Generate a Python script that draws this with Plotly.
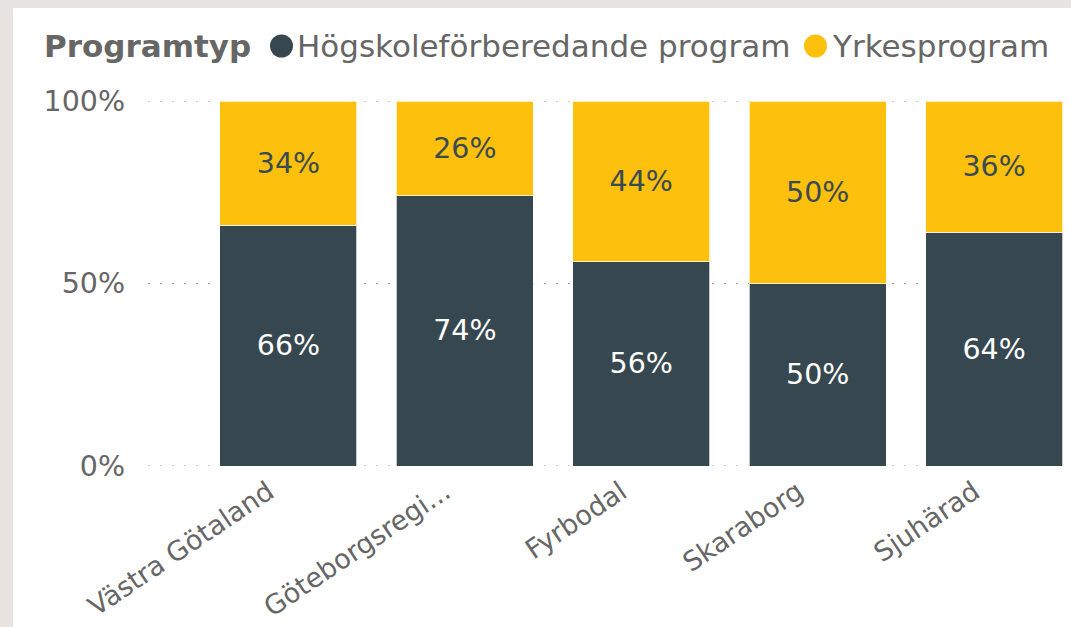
import plotly.graph_objects as go

categories = ["Västra Götaland", "Göteborgsregionen", "Fyrbodal", "Skaraborg", "Sjuhärad"]
tick_labels = ["Västra Götaland", "Göteborgsregi...", "Fyrbodal", "Skaraborg", "Sjuhärad"]
hogskole = [66, 74, 56, 50, 64]
yrkes = [34, 26, 44, 50, 36]
series_names = ["Högskoleförberedande program", "Yrkesprogram"]
y_ticks = [0, 50, 100]
y_tick_labels = ["0%", "50%", "100%"]

DARK = "#37474f"
YELLOW = "#fdc00d"
FONT = "DejaVu Sans"

W, H = 1071, 627
L, R, T, B = 148, 0, 101, 161
PW, PH = W - L - R, H - T - B


def px(x):
    return (x - L) / PW


def py(y):
    return (H - B - y) / PH


fig = go.Figure()
fig.add_trace(go.Bar(
    x=categories, y=hogskole, name=series_names[0],
    marker=dict(color=DARK, line=dict(color="rgba(255,255,255,0.7)", width=1)),
    text=[f"{v}%" for v in hogskole], textposition="inside", insidetextanchor="middle",
    textfont=dict(family=FONT, size=28.5, color="white"), showlegend=False,
))
fig.add_trace(go.Bar(
    x=categories, y=yrkes, name=series_names[1],
    marker=dict(color=YELLOW, line=dict(color="rgba(255,255,255,0.7)", width=1)),
    text=[f"{v}%" for v in yrkes], textposition="inside", insidetextanchor="middle",
    textfont=dict(family=FONT, size=28.5, color="#3a4a52"), showlegend=False,
))

shapes = [
    dict(type="rect", xref="paper", yref="paper", x0=px(13), x1=px(W + 5), y0=py(H + 5), y1=py(8),
         fillcolor="white", line=dict(width=0), layer="below"),
    dict(type="circle", xref="paper", yref="paper", x0=px(270), x1=px(293), y0=py(57.5), y1=py(34.5),
         fillcolor=DARK, line=dict(width=0)),
    dict(type="circle", xref="paper", yref="paper", x0=px(804), x1=px(827), y0=py(57.5), y1=py(34.5),
         fillcolor=YELLOW, line=dict(width=0)),
]
# dotted gridlines at the y ticks
for v in y_ticks:
    shapes.append(dict(type="line", xref="paper", yref="y", x0=0, x1=1, y0=v, y1=v,
                       line=dict(color="#9a9a9a", width=1, dash="2px,10px"), layer="below"))

annotations = [
    dict(text="<b>Programtyp</b>", x=px(42), y=py(46), xref="paper", yref="paper",
         xanchor="left", yanchor="middle", showarrow=False,
         font=dict(family=FONT, size=31, color="#666666")),
    dict(text=series_names[0], x=px(295), y=py(46), xref="paper", yref="paper",
         xanchor="left", yanchor="middle", showarrow=False,
         font=dict(family=FONT, size=31, color="#666666")),
    dict(text=series_names[1], x=px(830), y=py(46), xref="paper", yref="paper",
         xanchor="left", yanchor="middle", showarrow=False,
         font=dict(family=FONT, size=31, color="#666666")),
]

fig.update_layout(
    width=W, height=H,
    margin=dict(l=L, r=R, t=T, b=B, pad=0, autoexpand=False),
    paper_bgcolor="#e8e4e1",
    plot_bgcolor="rgba(0,0,0,0)",
    barmode="stack",
    bargap=0.224,
    shapes=shapes,
    annotations=annotations,
    uniformtext=dict(mode=False),
    font=dict(family=FONT, color="#666666"),
)
fig.update_xaxes(
    range=[-0.796, 4.436], tickmode="array", tickvals=categories, ticktext=tick_labels,
    tickangle=-34, tickfont=dict(family=FONT, size=27, color="#666666"),
    showgrid=False, zeroline=False, showline=False, ticks="", ticklabelstandoff=4,
    ticklabelshift=-20, automargin=False,
)
fig.update_yaxes(
    range=[0, 100], tickmode="array", tickvals=y_ticks, ticktext=y_tick_labels,
    tickfont=dict(family=FONT, size=28.5, color="#666666"),
    showgrid=False, zeroline=False, showline=False, ticks="", ticklabelstandoff=22,
    automargin=False,
)

fig.write_html(
    "out.html",
    config={"displayModeBar": False},
    post_script="document.body.style.margin='0px';document.body.style.background='#e8e4e1';",
)
